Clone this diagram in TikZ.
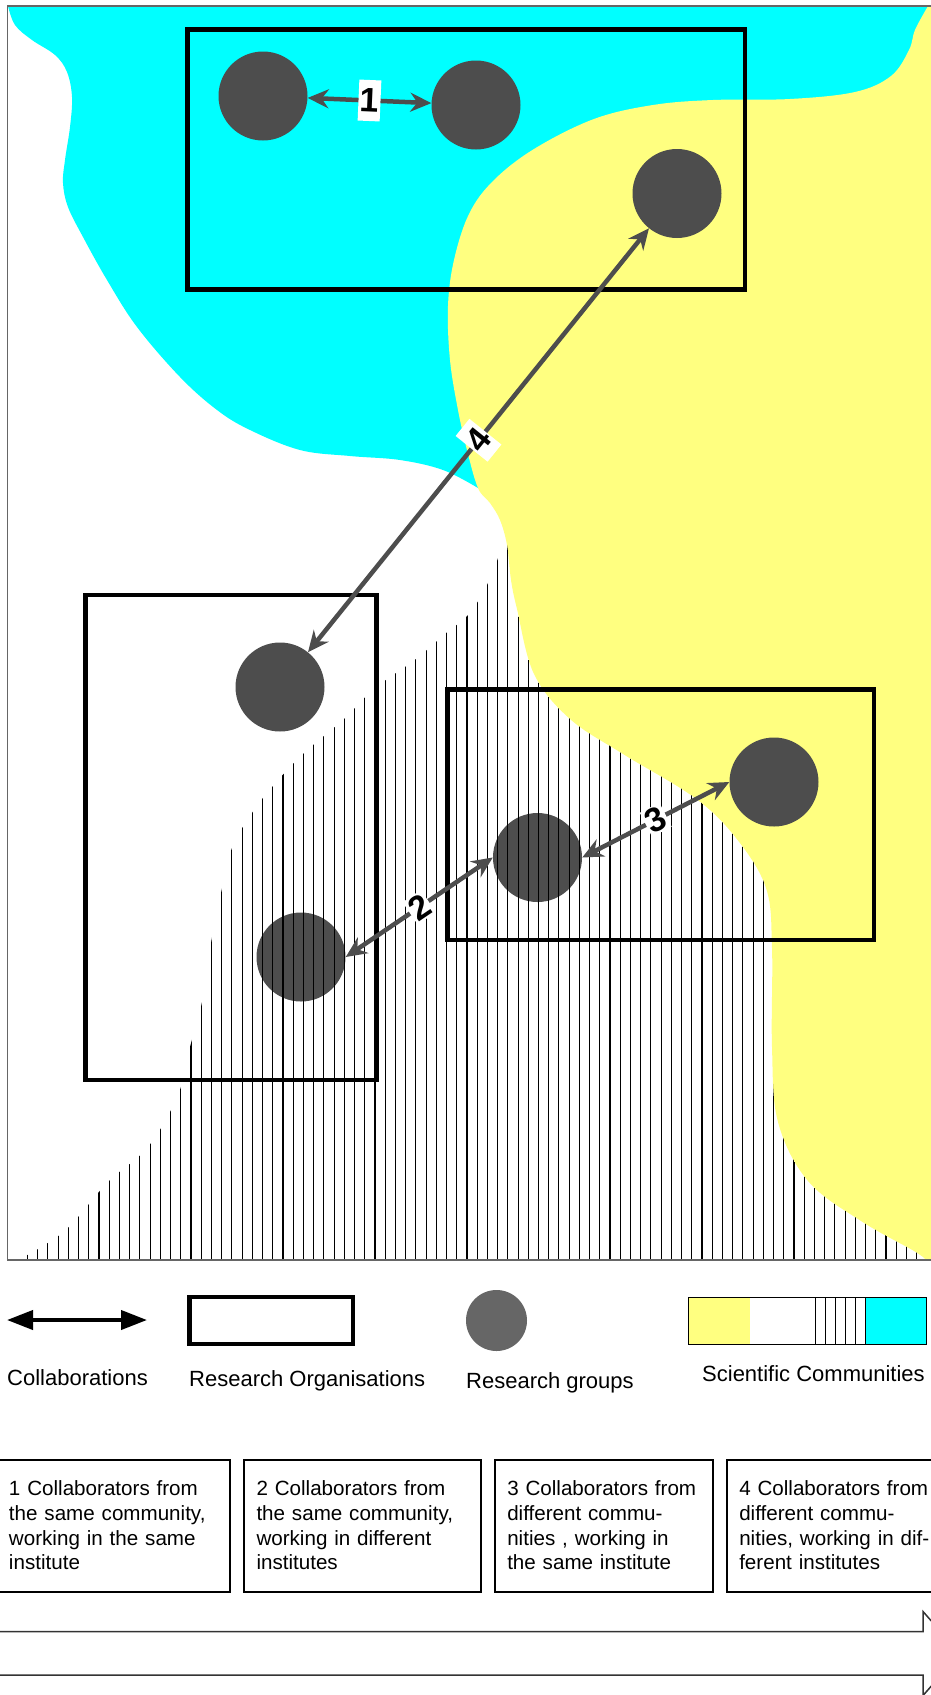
\documentclass[tikz,border=0pt]{standalone}
\usepackage{fontspec}
\setmainfont{Liberation Sans}
\usetikzlibrary{arrows.meta,positioning}

\definecolor{commcyan}{HTML}{00FFFF}
\definecolor{commyellow}{HTML}{FFFF80}
\definecolor{groupgray}{HTML}{4D4D4D}
\definecolor{legendgray}{HTML}{666666}

\begin{document}
\begin{tikzpicture}[x=1pt, y=-1pt,
    group/.style={circle, fill=groupgray, minimum size=89pt, inner sep=0pt},
    collab/.style={{Stealth[length=21pt,width=19pt,inset=7pt]}-{Stealth[length=21pt,width=19pt,inset=7pt]}, draw=groupgray, line width=4.5pt},
    numlabel/.style={fill=white, inner sep=0pt, minimum width=22pt, minimum height=41pt, sloped, font=\fontsize{34}{40}\selectfont\bfseries},
    org/.style={draw=black, line width=4.5pt},
    infobox/.style={draw, line width=2pt, minimum height=132pt, inner xsep=12.5pt, align=left, font=\fontsize{20.6}{24.7}\selectfont},
    legendtext/.style={anchor=base west, inner sep=0pt, font=\fontsize{22}{26}\selectfont}]
    \useasboundingbox (0,0) rectangle (931,1695);

    % Scientific communities
    \fill[commcyan] plot[smooth, tension=0.6] coordinates {(8,6) (15,25) (32,40) (55,55) (67,72) (72,97) (70,127) (65,160) (63,183) (68,207) (83,237) (107,280) (137,327) (180,377) (217,410) (250,430) (300,450) (350,456) (400,460) (443,470) (478,488)} -- (931,488) -- (931,6) -- cycle;
    \fill[commyellow] plot[smooth, tension=0.6] coordinates {(928,6) (915,30) (909,50) (891,76) (855,92) (790,99) (713,100) (653,105) (594,119) (534,149) (493,181) (469,214) (454,260) (448,306) (450,360) (458,410) (467,450) (478,488) (490,503) (500,520) (507,545) (511,580) (517,609) (534,674) (570,719) (623,754) (695,798) (736,838) (766,888) (772,948) (772,1047) (778,1122) (808,1181) (861,1221) (914,1251) (926,1260)} -- (932,1260) -- (932,6) -- cycle;

    % Research groups
    \node[group] (g1) at (263,96) {};
    \node[group] (g2) at (476,105) {};
    \node[group] (g3) at (677,193.5) {};
    \node[group] (g4) at (280,687) {};
    \node[group] (g5) at (301,957) {};
    \node[group] (g6) at (537.5,857.5) {};
    \node[group] (g7) at (774,782) {};

    % hatched community
    \begin{scope}
        \clip plot[smooth, tension=0.6] coordinates {(18,1260) (43,1246) (70,1226) (108,1182) (148,1147) (178,1095) (190,1047) (202,1002) (211,943) (221,893) (232,848) (252,813) (273,786) (303,754) (344,719) (374,689) (416,659) (445,634) (469,614) (487,585) (499,555) (506,525)} -- (931,525) -- (931,1260) -- cycle;
        \clip plot[smooth, tension=0.6] coordinates {(467,450) (478,488) (490,503) (500,520) (507,545) (511,580) (517,609) (534,674) (570,719) (623,754) (695,798) (736,838) (766,888) (772,948) (772,1047) (778,1122) (808,1181) (861,1221) (914,1251) (926,1260)} -- (0,1260) -- (0,450) -- cycle;
        \foreach \i in {0,...,88}
            \draw[line width=1.1pt] ({27.5+10.22*\i},1260) -- ({27.5+10.22*\i},500);
    \end{scope}

    % frame
    \draw[black!60, line width=1.2pt] (7.5,6) rectangle (935,1260);

    % Research organisations
    \draw[org] (187.5,29.5) rectangle (745,289.5);
    \draw[org] (85.5,595) rectangle (376.5,1080);
    \draw[org] (447.5,689.5) rectangle (874,940);

    % Collaborations
    \draw[collab] (g1) -- node[numlabel] {1} (g2);
    \draw[collab] (g5.east) -- node[numlabel, minimum height=27pt] {2} (g6.west);
    \draw[collab] (g6.east) -- node[numlabel, minimum height=27pt] {3} (g7.west);
    \draw[collab] (g4) -- node[numlabel] {4} (g3);

    % Legend
    \coordinate (collA) at (7,1320);
    \coordinate (collB) at (147,1320);
    \draw[{Triangle[length=26pt,width=19pt]}-{Triangle[length=26pt,width=19pt]}, line width=4pt] (collA) -- (collB);
    \draw[org] (189.5,1297) rectangle (353,1344);
    \node[circle, fill=legendgray, minimum size=61pt, inner sep=0pt] (grpkey) at (496.5,1320.5) {};
    \fill[commyellow] (688,1297) rectangle (750,1344);
    \fill[commcyan] (865,1297) rectangle (926,1344);
    \foreach \x in {815,825,835,845,855,865}
        \draw[line width=1pt] (\x,1297) -- (\x,1344);
    \draw[line width=1pt] (688,1297) rectangle (926,1344);

    \node[legendtext] (collab) at (7,1385) {Collaborations};
    \node[legendtext] (orgs) at (189,1386) {Research Organisations};
    \node[legendtext] (groups) at (466,1388) {Research groups};
    \node[legendtext] (comms) at (702,1381) {Scientific Communities};

    % Kinds of collaboration
    \node[infobox, minimum width=233.5pt, text width=208.5pt] (kind1) at (113.25,1525.5) {1 Collaborators from\\the same community,\\working in the same\\institute};
    \node[infobox, minimum width=237pt, text width=212pt] (kind2) at (362.5,1525.5) {2 Collaborators from\\the same community,\\working in different\\institutes};
    \node[infobox, minimum width=218.5pt, text width=193.5pt] (kind3) at (604,1525.5) {3 Collaborators from\\different commu-\\nities , working in\\the same institute};
    \node[infobox, minimum width=218.5pt, text width=193.5pt] (kind4) at (836,1525.5) {4 Collaborators from\\different commu-\\nities, working in dif-\\ferent institutes};

    % block arrow
    \draw[black!80, line width=1.5pt] (-10,1631.5) -- (923,1631.5) -- (923,1611.5) -- (960,1653.5) -- (923,1695.5) -- (923,1675) -- (-10,1675);
\end{tikzpicture}
\end{document}
